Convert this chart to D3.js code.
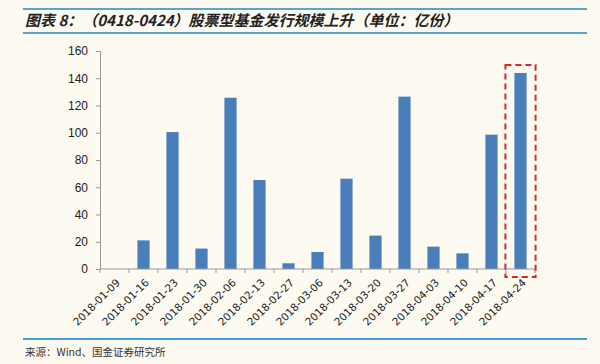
<!DOCTYPE html>
<html>
<head>
<meta charset="utf-8">
<script src="https://cdn.jsdelivr.net/npm/d3@7"></script>
<style>
  body { margin: 0; background: #fdfaf1; }
  svg { display: block; }
</style>
</head>
<body>
<div id="chart"></div>
<script>
// weekly issuance of equity funds (亿份)
const dates = ['2018-01-09', '2018-01-16', '2018-01-23', '2018-01-30', '2018-02-06',
    '2018-02-13', '2018-02-27', '2018-03-06', '2018-03-13', '2018-03-20',
    '2018-03-27', '2018-04-03', '2018-04-10', '2018-04-17', '2018-04-24'];
const values = [0, 21, 100.5, 15, 125.7, 65.3, 4.2, 12.5, 66.3, 24.5, 126.5, 16.4, 11.5, 98.6, 143.9];
const yTicks = [0, 20, 40, 60, 80, 100, 120, 140, 160];

const W = 600, H = 364;
const margin = {top: 51, left: 100, right: 65, bottom: 95};

const svg = d3.select('#chart').append('svg')
    .attr('width', W)
    .attr('height', H);

svg.append('rect').attr('width', W).attr('height', H).attr('fill', '#fdfaf1');

// title + rules (drawn as thin rects)
const rules = [{y: 8, c: '#5ea3cb'}, {y: 32, c: '#5ea3cb'}, {y: 338, c: '#3f9fd6'}];
svg.append('g')
    .selectAll('rect')
    .data(rules)
    .join('rect')
    .attr('x', 23).attr('width', 564)
    .attr('y', d => d.y).attr('height', 2)
    .attr('fill', d => d.c);

svg.append('text')
    .attr('x', 25).attr('y', 26)
    .attr('font-family', '"Noto Sans CJK SC", sans-serif')
    .attr('font-size', 15)
    .attr('font-weight', 'bold')
    .attr('font-style', 'italic')
    .attr('fill', '#222')
    .text('图表 8：（0418-0424）股票型基金发行规模上升（单位：亿份）');

// source
svg.append('text')
    .attr('x', 25).attr('y', 356)
    .attr('font-family', '"Noto Sans CJK SC", monospace')
    .attr('font-size', 10.5)
    .attr('fill', '#333')
    .text('来源：Wind、国金证券研究所');

const x = d3.scaleBand()
    .domain(dates)
    .range([margin.left, W - margin.right])
    .paddingInner(0.58)
    .paddingOuter(0.29);

const y = d3.scaleLinear()
    .domain([0, 160])
    .range([H - margin.bottom, margin.top]);

// bars
svg.append('g')
    .selectAll('rect')
    .data(dates)
    .join('rect')
    .attr('x', d => x(d))
    .attr('width', x.bandwidth())
    .attr('y', (d, i) => y(values[i]))
    .attr('height', (d, i) => y(0) - y(values[i]))
    .attr('fill', '#4a7ebb');

// y axis
const yAxis = svg.append('g')
    .attr('transform', 'translate(' + margin.left + ',0)')
    .call(d3.axisLeft(y).tickValues(yTicks).tickSize(4).tickPadding(8));
yAxis.select('.domain').attr('stroke', '#999');
yAxis.selectAll('.tick line').attr('stroke', '#999');
yAxis.selectAll('.tick text')
    .attr('font-family', 'Arial, "Liberation Sans", sans-serif')
    .attr('font-size', 12)
    .attr('fill', '#222');

// x axis: ticks between categories
const step = x.step();
const xAxis = svg.append('g')
    .attr('transform', 'translate(0,' + y(0) + ')');
xAxis.append('line')
    .attr('x1', margin.left).attr('x2', W - margin.right)
    .attr('stroke', '#999');
xAxis.selectAll('.sep')
    .data(d3.range(dates.length + 1))
    .join('line')
    .attr('x1', i => margin.left + i * step)
    .attr('x2', i => margin.left + i * step)
    .attr('y1', 0).attr('y2', 4)
    .attr('stroke', '#999');
xAxis.selectAll('.lbl')
    .data(dates)
    .join('text')
    .attr('transform', d => 'translate(' + (x(d) + x.bandwidth() / 2 + 1) + ',9) rotate(-45)')
    .attr('text-anchor', 'end')
    .attr('dy', '0.7em')
    .attr('font-family', '"DejaVu Sans", sans-serif')
    .attr('font-size', 10.5)
    .attr('fill', '#222')
    .text(d => d);

// highlight box around last bar
const last = dates[dates.length - 1];
svg.append('rect')
    .attr('x', x(last) - 9)
    .attr('y', y(143.9) - 8)
    .attr('width', x.bandwidth() + 18)
    .attr('height', y(0) - y(143.9) + 16)
    .attr('fill', 'none')
    .attr('stroke', '#d9272e')
    .attr('stroke-width', 2)
    .attr('stroke-dasharray', '6,4');
</script>
</body>
</html>
